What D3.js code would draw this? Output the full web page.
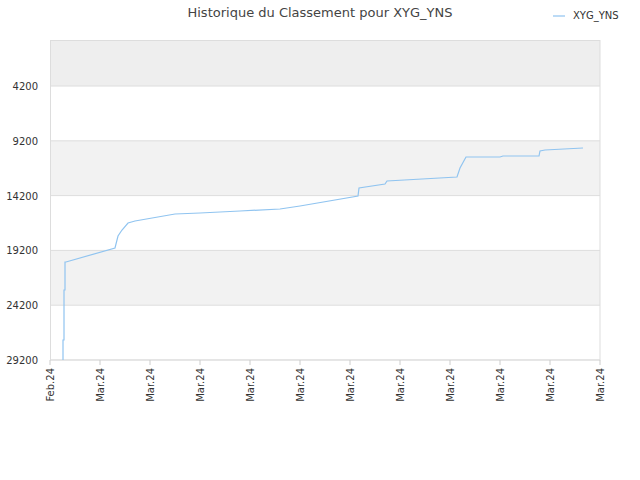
<!DOCTYPE html>
<html><head><meta charset="utf-8">
<script src="https://cdn.jsdelivr.net/npm/d3@7"></script>
<style>body{margin:0;background:#fff;font-family:"DejaVu Sans",sans-serif}</style>
</head><body><svg width="640" height="480"></svg>
<script>
const tickLabels = ["Feb.24","Mar.24","Mar.24","Mar.24","Mar.24","Mar.24","Mar.24","Mar.24","Mar.24","Mar.24","Mar.24","Mar.24"];
const yTicks = [4200, 9200, 14200, 19200, 24200, 29200];
// x position in tick-index units, rank value
const xs = [0.26,0.26,0.28,0.28,0.3,0.3,0.32,1.3,1.36,1.44,1.56,1.7,2.5,3.0,3.8,4.6,5.0,6.16,6.18,6.7,6.74,8.14,8.2,8.32,9.0,9.06,9.78,9.8,9.9,10.66];
const ranks = [29200,27375,27375,22812,22812,20257,20257,18980,17885,17337,16699,16516,15877,15786,15604,15421,15147,14235,13505,13140,12866,12501,11680,10676,10676,10585,10585,10129,10037,9855];

const svg = d3.select("svg");
const x = d3.scaleLinear().domain([0, 11]).range([50, 600]);
const y = d3.scaleLinear().domain([0, 29200]).range([40, 360]);

// bands
const bands = [[0,4200,"#eeeeee"],[4200,9200,"#ffffff"],[9200,14200,"#f2f2f2"],[14200,19200,"#ffffff"],[19200,24200,"#f2f2f2"],[24200,29200,"#ffffff"]];
svg.selectAll("rect.band").data(bands).join("rect")
  .attr("x", 50).attr("width", 550)
  .attr("y", d => y(d[0])).attr("height", d => y(d[1]) - y(d[0]))
  .attr("fill", d => d[2]);
svg.selectAll("line.grid").data(yTicks).join("line")
  .attr("x1", 50).attr("x2", 600).attr("y1", d => y(d)).attr("y2", d => y(d))
  .attr("stroke", "#dddddd");
svg.append("rect").attr("x", 50.5).attr("y", 40.5).attr("width", 549.5).attr("height", 319.5)
  .attr("fill", "none").attr("stroke", "#dddddd");

// y labels
svg.selectAll("text.yl").data(yTicks).join("text")
  .attr("x", 38).attr("y", d => y(d) + 4).attr("text-anchor", "end")
  .attr("font-size", 10).attr("fill", "#333").text(d => d);

// x ticks
svg.selectAll("line.xt").data(tickLabels).join("line")
  .attr("x1", (d, i) => x(i)).attr("x2", (d, i) => x(i))
  .attr("y1", 360).attr("y2", 365).attr("stroke", "#ccc");
svg.selectAll("text.xl").data(tickLabels).join("text")
  .attr("transform", (d, i) => `translate(${x(i) + 4},368) rotate(-90)`)
  .attr("text-anchor", "end").attr("font-size", 10).attr("fill", "#333").text(d => d);

// line
const pts = xs.map((v, i) => [v, ranks[i]]);
svg.append("path").datum(pts)
  .attr("d", d3.line().x(d => x(d[0])).y(d => y(d[1])))
  .attr("fill", "none").attr("stroke", "#90c4f0").attr("stroke-width", 1.2);

// title & legend
svg.append("text").attr("x", 320).attr("y", 17).attr("text-anchor", "middle")
  .attr("font-size", 13).attr("fill", "#444").text("Historique du Classement pour XYG_YNS");
svg.append("line").attr("x1", 553).attr("x2", 565).attr("y1", 16).attr("y2", 16)
  .attr("stroke", "#90c4f0").attr("stroke-width", 1.2);
svg.append("text").attr("x", 573).attr("y", 19).attr("font-size", 10).attr("fill", "#333").text("XYG_YNS");
</script></body></html>
